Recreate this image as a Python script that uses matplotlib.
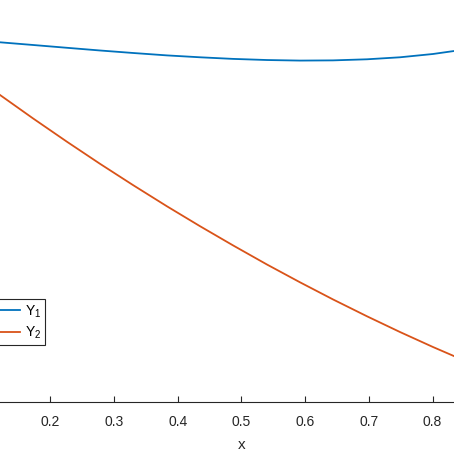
import numpy as np
import matplotlib.pyplot as plt

plt.rcParams['font.family'] = ['Liberation Sans', 'DejaVu Sans']
plt.rcParams['mathtext.fontset'] = 'custom'
plt.rcParams['mathtext.rm'] = 'Liberation Sans'
plt.rcParams['mathtext.it'] = 'Liberation Sans'

# values (y in arbitrary units, y axis not visible)
x = [0.1209, 0.1727, 0.2261, 0.2779, 0.3297, 0.3830, 0.4349, 0.4867,
     0.5400, 0.5918, 0.6436, 0.6970, 0.7488, 0.8006, 0.8336]
y1 = [0.8948, 0.8881, 0.8811, 0.8744, 0.8682, 0.8622, 0.8575, 0.8535,
      0.8507, 0.8493, 0.8498, 0.8525, 0.8575, 0.8657, 0.8731]
y2 = [0.7637, 0.7055, 0.6473, 0.5925, 0.5396, 0.4868, 0.4373, 0.3896,
      0.3420, 0.2978, 0.2552, 0.2132, 0.1741, 0.1368, 0.1142]
xticks = [0.2, 0.3, 0.4, 0.5, 0.6, 0.7, 0.8]

fig = plt.figure(figsize=(4.54, 4.54), dpi=100)
# the picture is a crop: the axes run past the left, right and top edges
ax = fig.add_axes([-77 / 454, 52 / 454, 637 / 454, 402 / 454])

ax.plot(x, y1, color='#0072BD', lw=1.3, label='Y$_1$')
ax.plot(x, y2, color='#D95319', lw=1.3, label='Y$_2$')

ax.set_xlim(0, 1)
ax.set_ylim(0, 1)
ax.set_xticks(xticks)
ax.set_xticklabels([f'{v:.1f}' for v in xticks])
ax.set_yticks([])
for s in ['top', 'left', 'right']:
    ax.spines[s].set_visible(False)
ax.spines['bottom'].set_color('#262626')
ax.spines['bottom'].set_linewidth(0.8)
ax.tick_params(axis='x', direction='in', length=4, width=0.8, color='#262626',
               labelsize=10, labelcolor='#262626', pad=9)
ax.set_xlabel('x', fontsize=11, color='#262626', labelpad=7)

leg = ax.legend(loc='upper right', bbox_to_anchor=(45 / 454, 1 - 299 / 454),
                bbox_transform=fig.transFigure, fontsize=10, handlelength=4,
                handletextpad=0.3, borderaxespad=0, fancybox=False,
                framealpha=1, edgecolor='#262626', borderpad=0.3,
                labelspacing=0.35)
leg.get_frame().set_linewidth(0.8)

fig.savefig('out.png', dpi=100)
